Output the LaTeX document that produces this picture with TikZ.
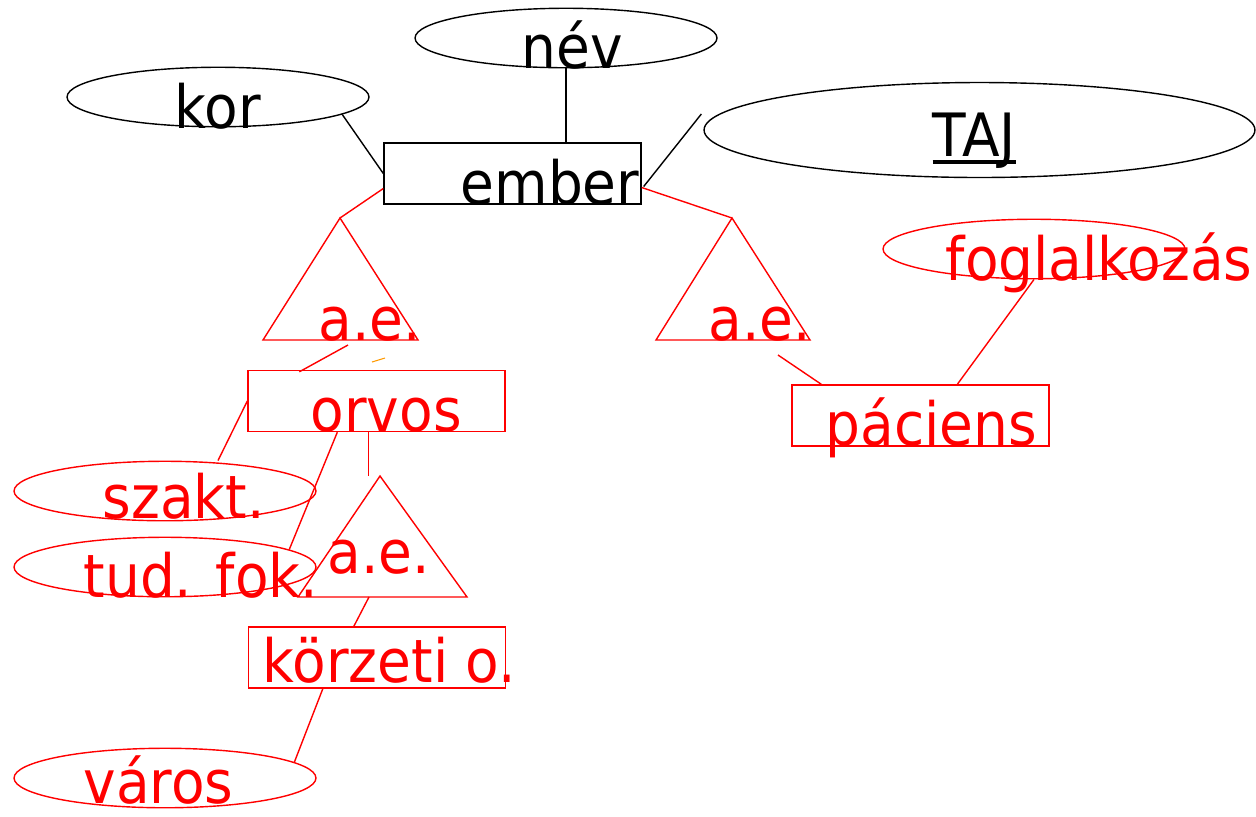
\documentclass[tikz,border=0pt]{standalone}
\usepackage{fontspec}
\setmainfont{DejaVu Sans}[FakeStretch=0.92]
\usetikzlibrary{shapes.geometric, positioning}

\newcommand\keyattr[1]{\setbox0\hbox{#1}\rlap{\rule[-0.13em]{\wd0}{0.07em}}#1}

\begin{document}
\begin{tikzpicture}[x=0.02cm, y=-0.02cm, line width=0.8pt,
    attr/.style={draw, ellipse, inner sep=0pt, minimum width=6.04cm, minimum height=1.19cm},
    entity/.style={draw, rectangle, inner sep=0pt, minimum width=5.14cm, minimum height=1.22cm},
    lbl/.style={anchor=base west, inner sep=0pt, font=\fontsize{34}{40}\selectfont}]

    \useasboundingbox (0,0) rectangle (1256,816);

    %% ember (black)
    % Nodes
    \node[entity] (ember) at (512.5,173.5) {};
    \node[lbl] (embertext) at (460,204) {ember};
    \node[attr] (nev) at (566,38) {};
    \node[lbl] (nevtext) at (521,68) {név};
    \node[attr] (kor) at (218,97) {};
    \node[lbl] (kortext) at (174,128) {kor};
    \node[attr, minimum width=11.02cm, minimum height=1.9cm] (taj) at (979.5,130) {};
    \node[lbl] (tajtext) at (932,156) {\keyattr{TAJ}};

    % Connections
    \draw (kor.-8) -- (ember.west);
    \draw (nev.south) -- (nev.south |- ember.north);
    \draw ([shift={(-2,-16)}]taj.west) -- ([shift={(2,13)}]ember.east);

    %% specialisations (red)
    % Triangles
    \coordinate (t1a) at (340,218); \coordinate (t1l) at (263,340); \coordinate (t1r) at (418,340);
    \coordinate (t2a) at (732,218); \coordinate (t2l) at (656,340); \coordinate (t2r) at (810,340);
    \coordinate (t3a) at (380,476); \coordinate (t3l) at (298,597); \coordinate (t3r) at (467,597);
    \draw[red] (t1a) -- (t1l) -- (t1r) -- cycle;
    \draw[red] (t2a) -- (t2l) -- (t2r) -- cycle;
    \draw[red] (t3a) -- (t3l) -- (t3r) -- cycle;
    \node[lbl, red] (ae1) at (318,340) {a.e.};
    \node[lbl, red] (ae2) at (708,340) {a.e.};
    \node[lbl, red] (ae3) at (327,573) {a.e.};

    % Nodes
    \node[entity, red] (orvos) at (376.5,401) {};
    \node[lbl, red] (orvostext) at (310,431) {orvos};
    \node[entity, red] (korzeti) at (377,657.5) {};
    \node[lbl, red] (korzetitext) at (262,682) {körzeti o.};
    \node[entity, red] (paciens) at (920.5,415.5) {};
    \node[lbl, red] (pacienstext) at (825,445) {páciens};
    \node[attr, red] (szakt) at (165,491) {};
    \node[lbl, red] (szakttext) at (102,518) {szakt.};
    \node[attr, red] (tudfok) at (165,567) {};
    \node[lbl, red] (tudfoktext) at (83,597) {tud. fok.};
    \node[attr, red] (varos) at (165,778) {};
    \node[lbl, red] (varostext) at (83,803) {város};
    \node[attr, red] (fogl) at (1034,249) {};
    \node[lbl, red] (fogltext) at (945,280) {foglalkozás};

    % Connections
    \coordinate (t1out) at (348,345);
    \coordinate (t2out) at (778,355);
    \draw[red] ([shift={(0,15)}]ember.west) -- (t1a);
    \draw[red] ([shift={(0,14)}]ember.east) -- (t2a);
    \draw[red] (t1out) -- ([shift={(52,2)}]orvos.north west);
    \draw[red] (t2out) -- ([shift={(30,0)}]paciens.north west);
    \draw[red] ([shift={(166,0)}]paciens.north west) -- (fogl.south);
    \draw[red] (orvos.west) -- ([shift={(53,0)}]szakt.north);
    \draw[red] ([shift={(90,0)}]orvos.south west) -- (tudfok.8);
    \draw[red] ([shift={(121,0)}]orvos.south west) -- ([shift={(121,0)}]orvos.south west |- t3a);
    \draw[red] ([shift={(71,0)}]t3l) -- ([shift={(106,0)}]korzeti.north west);
    \draw[red] ([shift={(75,0)}]korzeti.south west) -- (varos.7);

    % stray mark
    \coordinate (m1) at (372,362);
    \coordinate (m2) at (385,358);
    \draw[orange!80!yellow, line width=0.6pt] (m1) -- (m2);
\end{tikzpicture}
\end{document}
